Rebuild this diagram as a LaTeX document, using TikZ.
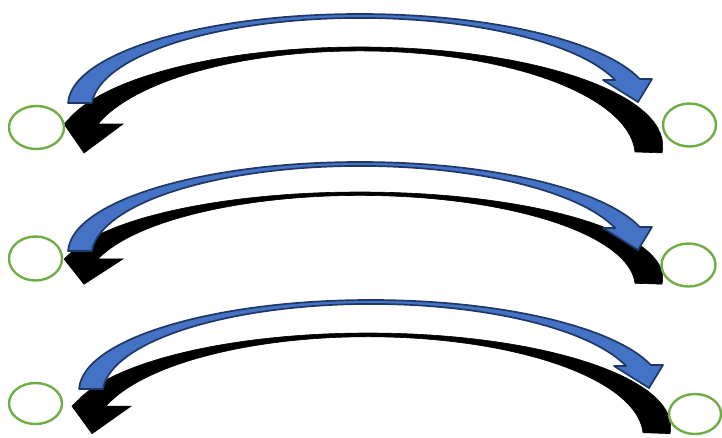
\documentclass[tikz,border=0pt]{standalone}
\usetikzlibrary{shapes.geometric}
\definecolor{pptblue}{HTML}{4472C4}
\definecolor{pptnavy}{HTML}{1F3864}
\definecolor{pptgreen}{HTML}{70AD47}
\tikzset{
  bluearrow/.style={fill=pptblue, draw=pptnavy, line width=1.7pt, line join=round},
  blackarrow/.style={fill=black, draw=black, line width=0.6pt, line join=miter},
  gell/.style={ellipse, draw=pptgreen, line width=2.4pt, fill=white, inner sep=0pt},
}
\newcommand{\bluecurve}{%
  (68.07,-103.0) arc[start angle=178.74, end angle=16.6, x radius=292pt, y radius=91pt]
  -- (652,-79) -- (638,-102) -- (603,-80) -- (615.1,-80.0)
  arc[start angle=18.1, end angle=176.8, x radius=268.4pt, y radius=90pt] -- cycle}
\newcommand{\blackcurve}{%
  (662,-152.9) arc[start angle=-4, end angle=164, x radius=302.7pt, y radius=99pt]
  -- (64,-124) -- (84,-153) -- (123,-124) -- (98.0,-124.0)
  arc[start angle=162.2, end angle=2.3, x radius=275.2pt, y radius=105.2pt] -- cycle}
\begin{document}
\begin{tikzpicture}[x=1pt,y=1pt]
\useasboundingbox (0,0) rectangle (722,-437);
% pair 1
\path[blackarrow] \blackcurve;
\path[bluearrow] \bluecurve;
% pair 2
\begin{scope}[shift={(0,-192)}, yscale=0.87, shift={(0,47)}]
  \path[blackarrow] \blackcurve;
\end{scope}
\begin{scope}[shift={(0,-148)}]
  \path[bluearrow] \bluecurve;
\end{scope}
% pair 3
\begin{scope}[shift={(8,-333)}, yscale=0.95, shift={(0,47)}]
  \path[blackarrow] \blackcurve;
\end{scope}
\begin{scope}[shift={(11,-286)}]
  \path[bluearrow] \bluecurve;
\end{scope}
% green ellipses
\node[gell, minimum width=55pt, minimum height=43pt] (l1) at (36.5,-127.5) {};
\node[gell, minimum width=53pt, minimum height=43pt] (r1) at (689.5,-125) {};
\node[gell, minimum width=53pt, minimum height=44pt] (l2) at (35.5,-258.5) {};
\node[gell, minimum width=54pt, minimum height=43pt] (r2) at (688.5,-265) {};
\node[gell, minimum width=53pt, minimum height=41pt] (l3) at (35.5,-403.5) {};
\node[gell, minimum width=52pt, minimum height=40pt] (r3) at (695,-414) {};
\end{tikzpicture}
\end{document}
